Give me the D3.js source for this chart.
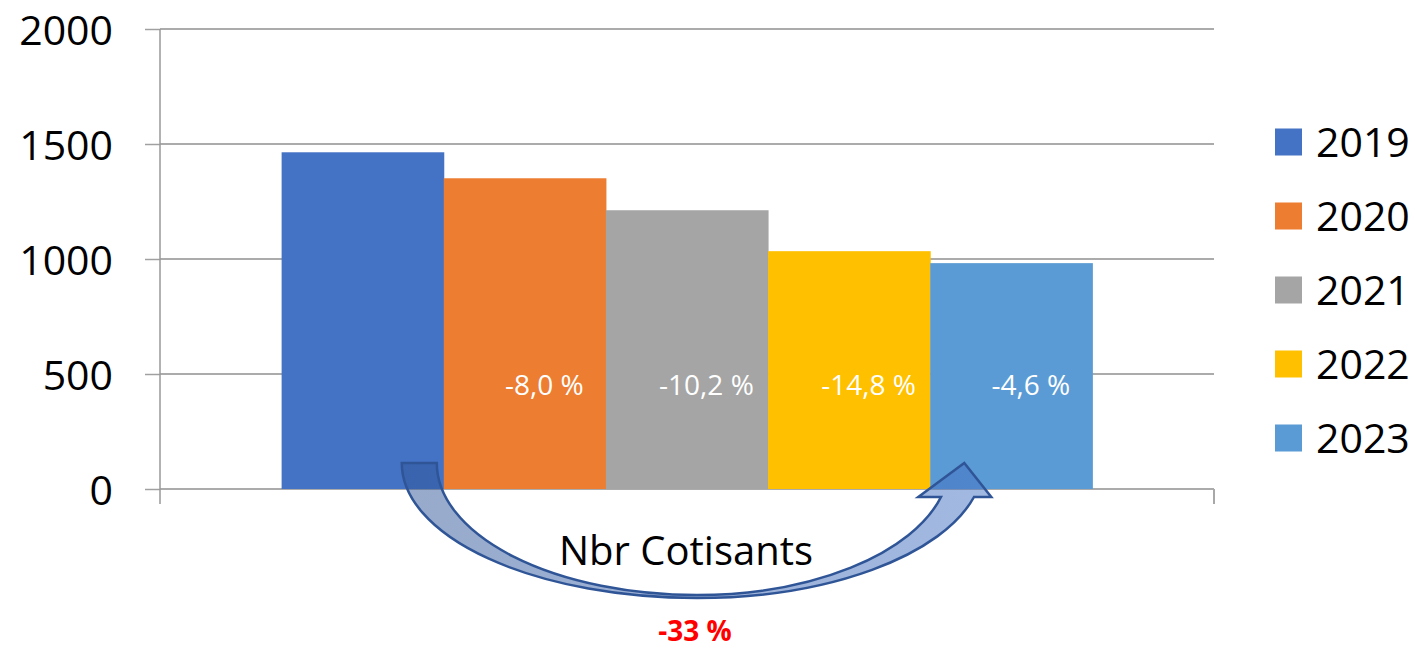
<!DOCTYPE html>
<html>
<head>
<meta charset="utf-8">
<script src="https://cdn.jsdelivr.net/npm/d3@7"></script>
<style>
  body { margin: 0; background: #fff; }
  text { font-family: "Open Sans", sans-serif; }
</style>
</head>
<body>
<svg id="chart" width="1415" height="649"></svg>
<script>
// donnees
const years = ["2019", "2020", "2021", "2022", "2023"]
const cotisants = [1464, 1351, 1212, 1034, 982]
const variations = [null, -8.0, -10.2, -14.8, -4.6]
const totalVariation = -33
const yTicks = [0, 500, 1000, 1500, 2000]
const colors = ["#4472C4", "#ED7D31", "#A5A5A5", "#FFC000", "#5B9BD5"]
const categoryLabel = "Nbr Cotisants"

const data = years.map((y, i) => ({ year: y, value: cotisants[i], change: variations[i], color: colors[i] }))

const plot = { left: 160, right: 1214, top: 29, bottom: 489 }

const svg = d3.select("#chart")

const x = d3.scaleBand()
  .domain(years)
  .range([plot.left, plot.right])
  .paddingInner(0)
  .paddingOuter(0.75)

const y = d3.scaleLinear()
  .domain([0, 2000])
  .range([plot.bottom, plot.top])

const fmt = v => d3.format(".1f")(v).replace(".", ",").replace("−", "-") + " %"

// grille
svg.append("g")
  .selectAll("line")
  .data(yTicks)
  .join("line")
  .attr("x1", plot.left)
  .attr("x2", plot.right)
  .attr("y1", d => y(d))
  .attr("y2", d => y(d))
  .attr("stroke", "#ababab")
  .attr("stroke-width", 2)

// barres
svg.append("g")
  .selectAll("rect")
  .data(data)
  .join("rect")
  .attr("x", d => x(d.year))
  .attr("width", x.bandwidth() + 0.5)
  .attr("y", d => y(d.value))
  .attr("height", d => y(0) - y(d.value))
  .attr("fill", d => d.color)

// axe Y
const yAxis = d3.axisLeft(y).tickValues(yTicks).tickFormat(d3.format("d")).tickSize(15).tickPadding(32)
const yAxisG = svg.append("g")
  .attr("transform", `translate(${plot.left},0)`)
  .call(yAxis)
yAxisG.select(".domain").remove()
yAxisG.selectAll(".tick line").attr("stroke", "#a0a0a0").attr("stroke-width", 1.5)
yAxisG.selectAll(".tick text")
  .attr("fill", "#000")
  .attr("dy", "0.38em")
  .style("font-size", "41px")
  .style("font-family", "'Open Sans', sans-serif")

// ligne verticale + traits des bords de categorie
svg.append("line")
  .attr("x1", plot.left).attr("x2", plot.left)
  .attr("y1", plot.top).attr("y2", plot.bottom + 15)
  .attr("stroke", "#999").attr("stroke-width", 1.5)
svg.append("line")
  .attr("x1", plot.right).attr("x2", plot.right)
  .attr("y1", plot.bottom).attr("y2", plot.bottom + 15)
  .attr("stroke", "#a8a8a8").attr("stroke-width", 2)

// etiquettes de variation
svg.append("g")
  .selectAll("text")
  .data(data.filter(d => d.change !== null))
  .join("text")
  .attr("x", d => x(d.year) + x.bandwidth() * 0.62)
  .attr("y", 395)
  .attr("text-anchor", "middle")
  .attr("fill", "#fff")
  .style("font-size", "28px")
  .text(d => fmt(d.change))

// legende
const legend = svg.append("g")
  .selectAll("g")
  .data(data)
  .join("g")
  .attr("transform", (d, i) => `translate(1275, ${142 + i * 74})`)
legend.append("rect")
  .attr("x", 0).attr("y", -13.5)
  .attr("width", 27).attr("height", 27)
  .attr("fill", d => d.color)
legend.append("text")
  .attr("x", 41).attr("y", 0)
  .attr("dy", "0.36em")
  .style("font-size", "41px")
  .attr("fill", "#000")
  .text(d => d.year)

// fleche courbe
const defs = svg.append("defs")
const grad = defs.append("linearGradient").attr("id", "arrowGrad")
  .attr("x1", "0%").attr("x2", "100%").attr("y1", "0%").attr("y2", "0%")
grad.append("stop").attr("offset", "0%").attr("stop-color", "#2f5597").attr("stop-opacity", 0.5)
grad.append("stop").attr("offset", "100%").attr("stop-color", "#4472c4").attr("stop-opacity", 0.5)

const bw = x.bandwidth()
const tailL = x(years[0]) + bw * 0.741
const tailR = x(years[0]) + bw * 0.957
const tipX = x(years[4]) + bw * 0.21
const cx = 697
const cy = 463
const outerBottom = 598
const innerBottom = 595
const headY = 497
const outerR = 974
const innerR = 941

const arrowPath = [
  `M${tailL},${cy}`,
  `A${cx - tailL},${outerBottom - cy} 0 0 0 ${cx},${outerBottom}`,
  `A286,${outerBottom - cy} 0 0 0 ${outerR},${headY}`,
  `L${tipX + 27},${headY}`,
  `L${tipX},${cy}`,
  `L${tipX - 46},${headY}`,
  `L${innerR},${headY}`,
  `A252.5,${innerBottom - cy} 0 0 1 ${cx},${innerBottom}`,
  `A${cx - tailR},${innerBottom - cy} 0 0 1 ${tailR},${cy}`,
  "Z"
].join(" ")

svg.append("path")
  .attr("d", arrowPath)
  .attr("fill", "url(#arrowGrad)")
  .attr("stroke", "#2f5597")
  .attr("stroke-width", 2.5)
  .attr("stroke-linejoin", "miter")

svg.append("text")
  .attr("x", 686)
  .attr("y", 565)
  .attr("text-anchor", "middle")
  .attr("fill", "#000")
  .style("font-size", "40px")
  .text(categoryLabel)

svg.append("text")
  .attr("x", 695)
  .attr("y", 641)
  .attr("text-anchor", "middle")
  .attr("fill", "#ff0000")
  .style("font-size", "28px")
  .style("font-weight", "bold")
  .text(`${totalVariation} %`)
</script>
</body>
</html>
